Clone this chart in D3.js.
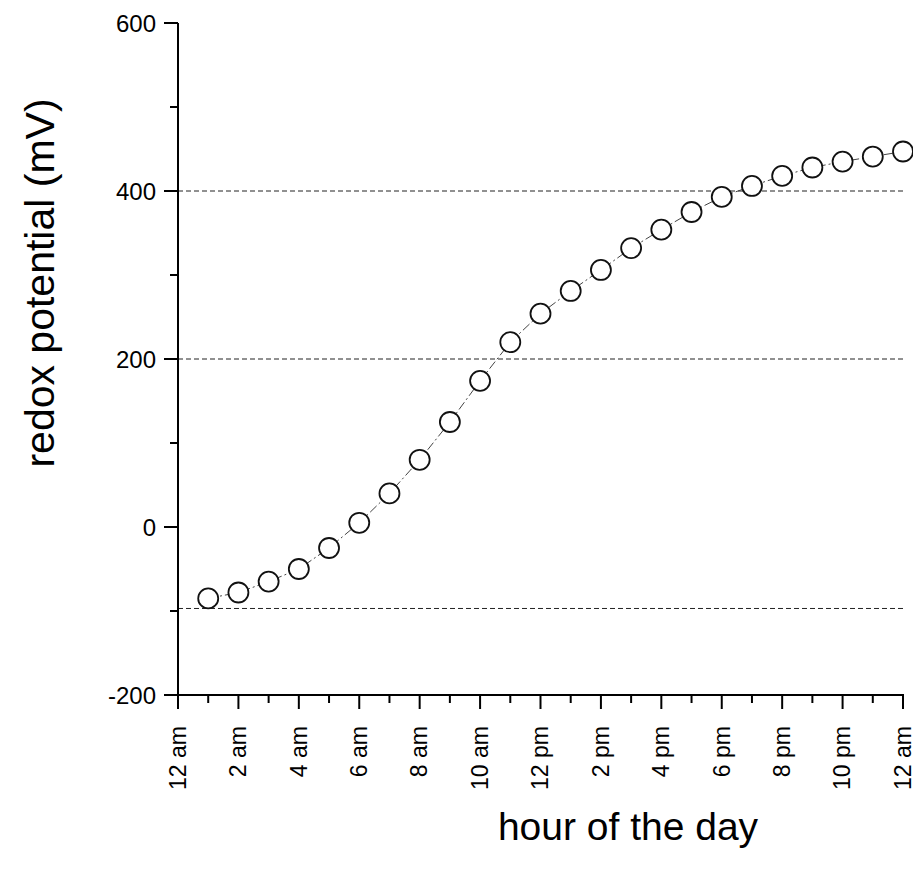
<!DOCTYPE html>
<html>
<head>
<meta charset="utf-8">
<script src="https://cdn.jsdelivr.net/npm/d3@7"></script>
<style>
  body { margin: 0; background: #fff; }
  svg { display: block; font-family: "Liberation Sans", Arial, sans-serif; }
  .ref { stroke: #222; stroke-width: 1; stroke-dasharray: 5,3; fill: none; }
  .link { stroke: #444; stroke-width: 1; stroke-dasharray: 9,3,2,3; fill: none; }
  .dot { fill: #fff; stroke: #111; stroke-width: 1.8; }
  .axe { stroke: #000; stroke-width: 2; }
</style>
</head>
<body>
<script>
// donnees
var hours = [1,2,3,4,5,6,7,8,9,10,11,12,13,14,15,16,17,18,19,20,21,22,23,24];
var redox = [-85,-78,-65,-50,-25,5,40,80,125,174,220,254,281,306,332,354,375,393,406,418,428,435,441,447];
var refLines = [400, 200, -97];
var yTicks = [-200, 0, 200, 400, 600];
var yMinor = [-100, 100, 300, 500];
var xTicks = [0,2,4,6,8,10,12,14,16,18,20,22,24];
var xLabels = ["12 am","2 am","4 am","6 am","8 am","10 am","12 pm","2 pm","4 pm","6 pm","8 pm","10 pm","12 am"];
var xMinor = [1,3,5,7,9,11,13,15,17,19,21,23];

var width = 913, height = 872;
var margin = {left: 178, right: 10, top: 23, bottom: 177};

var svg = d3.select("body").append("svg")
    .attr("width", width)
    .attr("height", height);

var x = d3.scaleLinear().domain([0, 24]).range([margin.left, width - margin.right]);
var y = d3.scaleLinear().domain([-200, 600]).range([height - margin.bottom, margin.top]);

// lignes pointillees de reference
svg.selectAll(".ref").data(refLines).enter().append("line")
    .attr("class", "ref")
    .attr("x1", x(0)).attr("x2", x(24))
    .attr("y1", d => y(d)).attr("y2", d => y(d));

// axe y
var yAxis = svg.append("g").attr("transform", "translate(" + x(0) + ",0)");
yAxis.append("line").attr("class", "axe")
    .attr("y1", y(600)).attr("y2", y(-200));
yAxis.selectAll(".maj").data(yTicks).enter().append("line").attr("class", "axe")
    .attr("x1", -14).attr("x2", 0)
    .attr("y1", d => y(d)).attr("y2", d => y(d));
yAxis.selectAll(".min").data(yMinor).enter().append("line").attr("class", "axe")
    .attr("x1", -8).attr("x2", 0)
    .attr("y1", d => y(d)).attr("y2", d => y(d));
yAxis.selectAll("text").data(yTicks).enter().append("text")
    .attr("x", -22).attr("y", d => y(d)).attr("dy", "0.36em")
    .attr("text-anchor", "end").attr("font-size", 24)
    .text(d => d);

// axe x
var xAxis = svg.append("g").attr("transform", "translate(0," + y(-200) + ")");
xAxis.append("line").attr("class", "axe")
    .attr("x1", x(0) - 1).attr("x2", x(24) + 1);
xAxis.selectAll(".maj").data(xTicks).enter().append("line").attr("class", "axe")
    .attr("y1", 0).attr("y2", 14)
    .attr("x1", d => x(d)).attr("x2", d => x(d));
xAxis.selectAll(".min").data(xMinor).enter().append("line").attr("class", "axe")
    .attr("y1", 0).attr("y2", 8)
    .attr("x1", d => x(d)).attr("x2", d => x(d));
xAxis.selectAll("text").data(xTicks).enter().append("text")
    .attr("transform", d => "translate(" + x(d) + ",31) rotate(-90)")
    .attr("dy", "0.34em")
    .attr("text-anchor", "end").attr("font-size", 23)
    .text((d, i) => xLabels[i]);

// courbe
var line = d3.line().x(d => x(d[0])).y(d => y(d[1]));
var pts = hours.map((h, i) => [h, redox[i]]);
svg.append("path").datum(pts).attr("class", "link").attr("d", line);

svg.selectAll(".dot").data(pts).enter().append("circle")
    .attr("class", "dot")
    .attr("cx", d => x(d[0])).attr("cy", d => y(d[1]))
    .attr("r", 10);

// titres
svg.append("text")
    .attr("transform", "translate(54,283) rotate(-90)")
    .attr("text-anchor", "middle").attr("font-size", 41)
    .text("redox potential (mV)");

svg.append("text")
    .attr("x", 628).attr("y", 840)
    .attr("text-anchor", "middle").attr("font-size", 39)
    .text("hour of the day");
</script>
</body>
</html>
